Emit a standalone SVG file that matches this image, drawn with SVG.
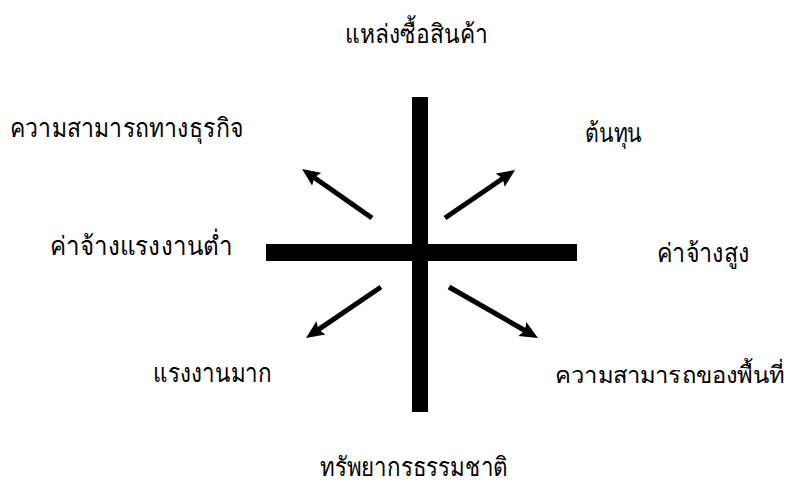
<svg xmlns="http://www.w3.org/2000/svg" width="794" height="483" viewBox="0 0 794 483">
<style>
.lbl{font-family:"Noto Sans","DejaVu Sans",sans-serif;font-size:26px;fill:#000}
.arr{stroke:#000;stroke-width:5;fill:none;marker-end:url(#ah)}
</style>
<defs>
<marker id="ah" markerUnits="userSpaceOnUse" viewBox="0 -9 20 18" markerWidth="20" markerHeight="18" refX="8" refY="0" orient="auto">
<path d="M0,-8 L18,0 L0,8 L3,0 Z" fill="#000"/>
</marker>
</defs>
<rect width="794" height="483" fill="#fff"/>
<g id="cross">
<rect x="412" y="97" width="16" height="315" fill="#000"/>
<rect x="266" y="244" width="311" height="17" fill="#000"/>
</g>
<g id="connectors">
<path class="arr" d="M372,218 L310.2,174.7"/>
<path class="arr" d="M445,218 L506.8,175.7"/>
<path class="arr" d="M381,287 L314.3,332.4"/>
<path class="arr" d="M449,287 L529.3,333"/>
</g>
<g id="n-top"><text class="lbl" x="345" y="43" textLength="143" lengthAdjust="spacingAndGlyphs">แหล่งซื้อสินค้า</text></g>
<g id="n-ul"><text class="lbl" x="10" y="137" textLength="233" lengthAdjust="spacingAndGlyphs">ความสามารถทางธุรกิจ</text></g>
<g id="n-ur"><text class="lbl" x="585" y="142" textLength="57" lengthAdjust="spacingAndGlyphs">ต้นทุน</text></g>
<g id="n-left"><text class="lbl" x="50" y="255" textLength="183" lengthAdjust="spacingAndGlyphs">ค่าจ้างแรงงานต่ำ</text></g>
<g id="n-right"><text class="lbl" x="657" y="262" textLength="93" lengthAdjust="spacingAndGlyphs">ค่าจ้างสูง</text></g>
<g id="n-ll"><text class="lbl" x="153" y="382" textLength="119" lengthAdjust="spacingAndGlyphs">แรงงานมาก</text></g>
<g id="n-lr"><text class="lbl" x="555" y="383" style="font-size:23.5px" textLength="229" lengthAdjust="spacingAndGlyphs">ความสามารถของพื้นที่</text></g>
<g id="n-bottom"><text class="lbl" x="320" y="476" textLength="188" lengthAdjust="spacingAndGlyphs">ทรัพยากรธรรมชาติ</text></g>
</svg>
